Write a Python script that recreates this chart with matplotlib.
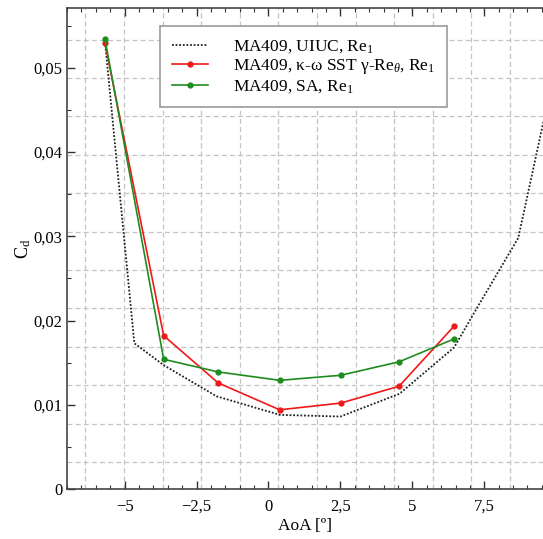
import numpy as np
import matplotlib
matplotlib.use("Agg")
import matplotlib.pyplot as plt
from matplotlib.ticker import MultipleLocator, FuncFormatter

plt.rcParams['font.family'] = ['Liberation Serif', 'DejaVu Serif']
plt.rcParams['mathtext.fontset'] = 'custom'
plt.rcParams['mathtext.rm'] = 'Liberation Serif'
plt.rcParams['mathtext.it'] = 'Liberation Serif:italic'

# UIUC reference polar (dotted black)
aoa_uiuc = [-5.68, -4.66, -3.64, -1.80, 0.40, 2.50, 4.55, 6.45, 7.35, 8.68, 9.60]
cd_uiuc = [0.0531, 0.0173, 0.0147, 0.0110, 0.0088, 0.0086, 0.0113, 0.0168, 0.0221, 0.0298, 0.0443]

# CFD points
aoa_cfd = [-5.68, -3.64, -1.75, 0.39, 2.51, 4.54, 6.44]
cd_sst = [0.0529, 0.0182, 0.0126, 0.0094, 0.0102, 0.0122, 0.0193]
cd_sa = [0.0534, 0.0154, 0.0139, 0.0129, 0.0135, 0.0151, 0.0178]

fig = plt.figure(figsize=(5.43, 5.39), dpi=100)
ax = fig.add_axes([67/543, 50/539, 1 - 67/543, 481/539])

# background mesh (not aligned with the ticks in the original)
for gx in np.arange(-6.36, 9.5, 1.341):
    ax.axvline(gx, color='#c4c4c4', lw=0.9, ls=(0, (4, 2.5)), zorder=0)
for gy in np.arange(0.0032, 0.057, 0.00456):
    ax.axhline(gy, color='#c4c4c4', lw=0.9, ls=(0, (4, 2.5)), zorder=0)

ax.plot(aoa_uiuc, cd_uiuc, color='#202020', lw=1.3, ls=(0, (1, 1)),
        label='MA409, UIUC, Re$_1$')
ax.plot(aoa_cfd, cd_sst, color='#f01818', lw=1.2, marker='o', ms=3.5,
        label='MA409, κ-ω SST γ-Re$_θ$, Re$_1$')
ax.plot(aoa_cfd, cd_sa, color='#1e8c1e', lw=1.2, marker='o', ms=3.5,
        label='MA409, SA, Re$_1$')

ax.set_xlim(-7.0, 9.54)
ax.set_ylim(0, 0.0571)

ax.xaxis.set_major_locator(MultipleLocator(2.5))
ax.xaxis.set_minor_locator(MultipleLocator(0.5))
ax.yaxis.set_major_locator(MultipleLocator(0.01))
ax.yaxis.set_minor_locator(MultipleLocator(0.005))


def fmt_x(v, pos):
    if abs(v) < 1e-9:
        return '0'
    return ('%g' % v).replace('.', ',').replace('-', '\u2212')


def fmt_y(v, pos):
    if abs(v) < 1e-9:
        return '0'
    return ('%.2f' % v).replace('.', ',')


ax.xaxis.set_major_formatter(FuncFormatter(fmt_x))
ax.yaxis.set_major_formatter(FuncFormatter(fmt_y))

ax.tick_params(which='both', direction='in', top=True, right=False,
               colors='#333333', labelcolor='black', labelsize=12)
ax.tick_params(which='major', length=6, width=1)
ax.tick_params(which='minor', length=3, width=0.8)
ax.tick_params(axis='x', pad=7)

for s in ['left', 'bottom', 'top']:
    ax.spines[s].set_color('#444444')
    ax.spines[s].set_linewidth(1.2)
ax.spines['right'].set_visible(False)

ax.set_xlabel('AoA [º]', fontsize=12.5, labelpad=2)
ax.set_ylabel('C$_\\mathrm{d}$', fontsize=13, labelpad=0)

leg = ax.legend(loc='upper left', bbox_to_anchor=(0.195, 0.962), fontsize=12.5,
                frameon=True, fancybox=False, framealpha=1, edgecolor='#999999',
                handlelength=2.1, handletextpad=1.4, labelspacing=0.12,
                borderpad=0.7, borderaxespad=0)
leg.get_frame().set_linewidth(1.2)

fig.savefig('out.png', dpi=100)
